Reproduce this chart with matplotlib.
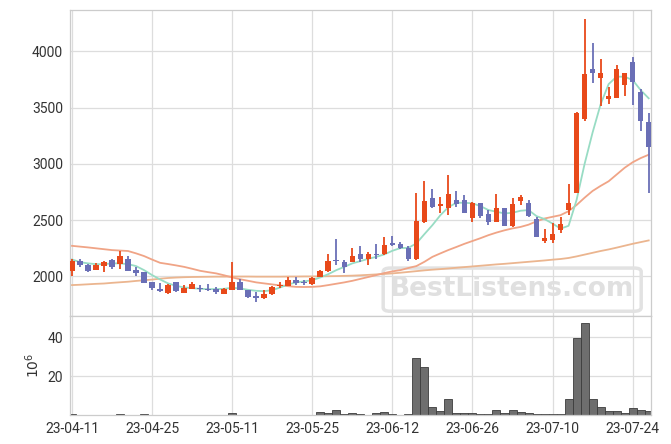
import matplotlib
matplotlib.use("Agg")
import matplotlib.pyplot as plt
import numpy as np
import pandas as pd
from matplotlib.patches import FancyBboxPatch

plt.rcParams['font.family'] = ['Roboto', 'DejaVu Sans']

# KRX trading days, holidays removed
holidays = ["2023-05-01", "2023-05-05", "2023-05-29", "2023-06-06"]
dates = pd.bdate_range("2023-04-11", "2023-07-26", freq="C", holidays=holidays)

opens = [2050, 2136, 2100, 2059, 2094, 2145, 2107, 2154, 2059, 2038, 1949, 1890,
         1849, 1947, 1854, 1890, 1899, 1890, 1887, 1845, 1881, 1949, 1878, 1822,
         1810, 1843, 1914, 1916, 1967, 1949, 1929, 1994, 2047, 2148, 2127, 2127,
         2196, 2157, 2198, 2196, 2299, 2287, 2254, 2151, 2486, 2697, 2625, 2610,
         2679, 2679, 2521, 2655, 2554, 2486, 2608, 2450, 2673, 2655, 2507, 2314,
         2323, 2412, 2590, 2744, 3402, 3844, 3762, 3575, 3589, 3705, 3907, 3640,
         3370]
closes = [2136, 2103, 2047, 2098, 2127, 2085, 2183, 2050, 2029, 1943, 1899, 1869,
          1923, 1869, 1899, 1931, 1887, 1881, 1863, 1887, 1949, 1881, 1818, 1807,
          1843, 1907, 1925, 1967, 1943, 1940, 1985, 2047, 2133, 2139, 2085, 2181,
          2151, 2196, 2190, 2278, 2281, 2252, 2154, 2492, 2667, 2619, 2646, 2732,
          2646, 2566, 2655, 2536, 2486, 2610, 2450, 2643, 2708, 2536, 2352, 2341,
          2376, 2465, 2650, 3450, 3800, 3806, 3811, 3604, 3842, 3809, 3726, 3382,
          3148]
highs = [2154, 2157, 2109, 2116, 2139, 2151, 2225, 2181, 2080, 2040, 1949, 1943,
         1931, 1952, 1920, 1949, 1920, 1929, 1902, 1893, 2127, 1973, 1878, 1863,
         1878, 1916, 1949, 1996, 1991, 1967, 1991, 2056, 2196, 2329, 2148, 2249,
         2272, 2214, 2287, 2347, 2359, 2305, 2270, 2738, 2851, 2777, 2708, 2901,
         2762, 2723, 2661, 2655, 2590, 2732, 2608, 2697, 2726, 2679, 2525, 2418,
         2472, 2530, 2821, 3464, 4287, 4073, 3931, 3682, 3880, 3809, 3948, 3664,
         3450]
lows = [2003, 2085, 2038, 2056, 2036, 2062, 2062, 2047, 2003, 1940, 1878, 1863,
        1842, 1858, 1849, 1885, 1863, 1872, 1840, 1840, 1878, 1878, 1810, 1774,
        1801, 1836, 1899, 1916, 1925, 1923, 1923, 1991, 2041, 2100, 2027, 2127,
        2130, 2100, 2154, 2187, 2270, 2240, 2136, 2145, 2472, 2612, 2560, 2545,
        2619, 2560, 2480, 2521, 2454, 2483, 2445, 2441, 2637, 2530, 2352, 2299,
        2294, 2390, 2545, 2738, 3384, 3717, 3515, 3530, 3586, 3604, 3524, 3295,
        2738]
volume = [0.5, 0.2, 0.2, 0.2, 0.2, 0.2, 0.5, 0.2, 0.2, 0.5, 0.2, 0.2,
          0.2, 0.2, 0.2, 0.2, 0.2, 0.2, 0.2, 0.2, 1.0, 0.2, 0.2, 0.2,
          0.2, 0.2, 0.2, 0.2, 0.2, 0.2, 0.2, 1.4, 1.0, 2.6, 0.5, 1.0,
          0.5, 0.2, 1.0, 1.6, 0.5, 0.2, 0.5, 29.3, 24.8, 4.1, 2.1, 8.3,
          1.0, 1.0, 1.0, 0.5, 0.5, 2.6, 1.0, 2.6, 1.6, 1.0, 0.5, 0.5,
          0.5, 0.5, 8.3, 39.7, 47.4, 8.3, 4.1, 2.1, 2.1, 1.0, 3.6, 2.6,
          2.1]
ma5 = [2151, 2127, 2116, 2109, 2109, 2116, 2116, 2109, 2092, 2056, 2012, 1973,
       1938, 1916, 1902, 1896, 1890, 1887, 1887, 1890, 1899, 1893, 1881, 1872,
       1869, 1878, 1902, 1929, 1947, 1956, 1967, 1991, 2020, 2056, 2085, 2116,
       2136, 2157, 2174, 2196, 2228, 2252, 2254, 2294, 2376, 2456, 2545, 2616,
       2655, 2655, 2650, 2625, 2590, 2575, 2560, 2566, 2584, 2590, 2536, 2510,
       2470, 2425, 2450, 2680, 3000, 3280, 3530, 3710, 3776, 3776, 3746, 3657,
       3584]
ma20 = [2272, 2265, 2258, 2250, 2242, 2234, 2230, 2226, 2205, 2181, 2150, 2121,
        2110, 2098, 2085, 2068, 2050, 2038, 2027, 2010, 1991, 1975, 1961, 1947,
        1938, 1929, 1920, 1913, 1907, 1906, 1907, 1912, 1923, 1935, 1947, 1961,
        1978, 1995, 2012, 2030, 2045, 2056, 2075, 2092, 2130, 2174, 2205, 2235,
        2262, 2290, 2315, 2340, 2367, 2390, 2410, 2427, 2440, 2460, 2490, 2515,
        2530, 2545, 2580, 2635, 2700, 2760, 2805, 2846, 2906, 2966, 3015, 3052,
        3082]
ma60 = [1923, 1926, 1930, 1934, 1937, 1943, 1948, 1953, 1960, 1966, 1972, 1980,
        1986, 1990, 1993, 1995, 1996, 1997, 1998, 1998, 1999, 1999, 1999, 1998,
        1998, 1998, 1998, 1999, 1999, 2000, 2000, 2001, 2002, 2003, 2005, 2007,
        2010, 2014, 2018, 2022, 2027, 2033, 2040, 2047, 2054, 2060, 2065, 2071,
        2077, 2083, 2089, 2095, 2101, 2107, 2112, 2118, 2124, 2130, 2136, 2142,
        2149, 2155, 2164, 2178, 2194, 2210, 2226, 2240, 2256, 2273, 2290, 2305,
        2320]

up_color = '#e8491a'
down_color = '#6a6fb6'
grid_color = '#dddddd'

fig = plt.figure(figsize=(6.71, 4.44), dpi=100)
ax = fig.add_axes([0.1043, 0.288, 0.8660, 0.6895])
axv = fig.add_axes([0.1043, 0.065, 0.8660, 0.223], sharex=ax)

x = np.arange(len(dates))
o = np.array(opens)
c = np.array(closes)
up = c >= o
colors = np.where(up, up_color, down_color)
body_lo = np.minimum(o, c)
body_h = np.maximum(np.abs(c - o), 8)

# watermark sits behind the candles
box = FancyBboxPatch((0.539, 0.016), 0.444, 0.141, boxstyle='round,pad=0,rounding_size=0.012',
                     transform=ax.transAxes, fill=False, edgecolor='#e2e2e2', lw=2.5, zorder=1.5)
ax.add_patch(box)
ax.text(0.761, 0.087, 'BestListens.com', transform=ax.transAxes, fontsize=19,
        fontweight='bold', family='DejaVu Sans', color='#e0e0e0',
        ha='center', va='center', zorder=1.5)

ax.plot(x, ma60, color='#ebb58f', lw=1.3, zorder=2)
ax.plot(x, ma20, color='#f0a486', lw=1.3, zorder=2)
ax.plot(x, ma5, color='#98dcc4', lw=1.3, zorder=2)
ax.vlines(x, lows, highs, colors=colors, lw=1.3, zorder=3)
ax.bar(x, body_h, bottom=body_lo, width=0.7, color=colors, zorder=4)

ax.set_ylim(1647, 4369)
ax.set_yticks([2000, 2500, 3000, 3500, 4000])
ax.set_xlim(-0.25, 72.3)

axv.bar(x, volume, width=1.0, color='#6e6e6e', edgecolor='#3c3c3c', lw=0.6)
axv.set_ylim(0, 50.8)
axv.set_yticks([20, 40])
axv.set_ylabel('$10^6$', fontsize=10, color='#333333', labelpad=4)

ticks = list(range(0, len(dates), 10))
axv.set_xticks(ticks)
axv.set_xticklabels([dates[i].strftime('%y-%m-%d') for i in ticks])
plt.setp(ax.get_xticklabels(), visible=False)

for a in (ax, axv):
    a.grid(True, color=grid_color, lw=0.9)
    a.set_axisbelow(True)
    a.tick_params(length=0, labelsize=10, labelcolor='#333333', pad=5)
    for s in a.spines.values():
        s.set_color('#cccccc')
        s.set_linewidth(0.9)

fig.savefig('out.png', dpi=100)
